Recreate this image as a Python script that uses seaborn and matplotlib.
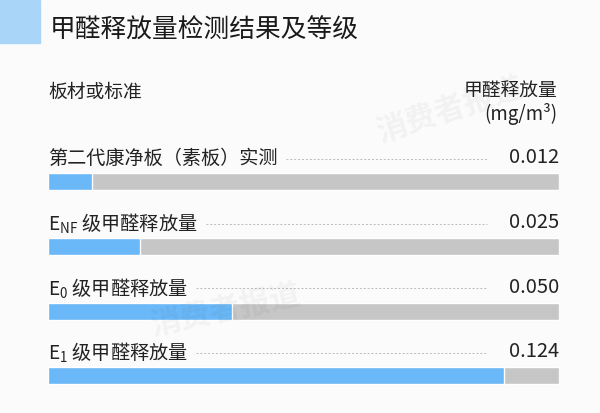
import pandas as pd
import seaborn as sns
import matplotlib.pyplot as plt
from matplotlib.patches import Rectangle

# 数据
items = ["第二代康净板（素板）实测",
         r"E$_{\mathregular{NF}}$ 级甲醛释放量",
         r"E$_{\mathregular{0}}$ 级甲醛释放量",
         r"E$_{\mathregular{1}}$ 级甲醛释放量"]
values = [0.012, 0.025, 0.050, 0.124]
value_labels = ["0.012", "0.025", "0.050", "0.124"]
scale_max = 0.139

title = "甲醛释放量检测结果及等级"
left_header = "板材或标准"
right_header = ["甲醛释放量", "(mg/m³)"]

blue = "#6ab8f7"
gray = "#c6c6c6"
bg = "#fbfbfb"

sns.set_theme(style="white")
plt.rcParams["font.family"] = ["Noto Sans CJK SC", "DejaVu Sans"]
plt.rcParams["mathtext.fontset"] = "custom"
plt.rcParams["mathtext.rm"] = "Noto Sans CJK SC"

df = pd.DataFrame({"item": [f"r{i}" for i in range(len(items))],
                   "value": values,
                   "full": [scale_max] * len(items)})

fig = plt.figure(figsize=(6, 4.13), dpi=100, facecolor=bg)
ax = fig.add_axes([48 / 600, 1 - 408.3 / 413, 511 / 600, 259.2 / 413])
ax.set_facecolor("none")

sns.barplot(data=df, x="full", y="item", orient="h", color=gray,
            saturation=1, width=0.26, ax=ax)
sns.barplot(data=df, x="value", y="item", orient="h", color=blue,
            saturation=1, width=0.26, ax=ax)

ax.set_xlim(0, scale_max)
ax.set_ylim(3.5, -0.5)
ax.set_xlabel("")
ax.set_ylabel("")
ax.set_xticks([])
ax.set_yticks([])
for s in ax.spines.values():
    s.set_visible(False)

# 行标签和数值
lab_txt, val_txt = [], []
for i, (name, v) in enumerate(zip(items, value_labels)):
    t1 = ax.text(0, i - 0.35, name, transform=ax.get_yaxis_transform(),
                 ha="left", va="center", fontsize=13.8, color="#222222")
    t2 = ax.text(1, i - 0.37, v, transform=ax.get_yaxis_transform(),
                 ha="right", va="center", fontsize=14.5, color="#222222")
    lab_txt.append(t1)
    val_txt.append(t2)

# 虚线
fig.canvas.draw()
r = fig.canvas.get_renderer()
inv = ax.transAxes.inverted()
for i, (t1, t2) in enumerate(zip(lab_txt, val_txt)):
    b1 = t1.get_window_extent(r)
    b2 = t2.get_window_extent(r)
    x0 = inv.transform((b1.x1 + 8, 0))[0]
    x1 = inv.transform((b2.x0 - 22, 0))[0]
    ax.plot([x0, x1], [i - 0.35, i - 0.35], transform=ax.get_yaxis_transform(),
            ls=(0, (2, 2)), lw=0.7, color="#bbbbbb")

# 标题和表头
fig.patches.append(Rectangle((0, 1 - 43 / 413), 40 / 600, 43 / 413,
                             transform=fig.transFigure, color="#a9d6f8", zorder=0))
fig.text(50 / 600, 1 - 31 / 413, title, fontsize=18.5, color="#1a1a1a",
         ha="left", va="center")
fig.text(48 / 600, 1 - 92 / 413, left_header, fontsize=13.5, color="#222222",
         ha="left", va="center")
fig.text(557 / 600, 1 - 91 / 413, right_header[0], fontsize=13.5, color="#222222",
         ha="right", va="center")
fig.text(557 / 600, 1 - 114 / 413, right_header[1], fontsize=13.5, color="#222222",
         ha="right", va="center")

# 水印
fig.text(450 / 600, 1 - 110 / 413, "消费者报道", fontsize=22, color="#000000",
         alpha=0.04, rotation=18, ha="center", va="center", fontweight="bold")
fig.text(225 / 600, 1 - 310 / 413, "消费者报道", fontsize=22, color="#000000",
         alpha=0.04, rotation=12, ha="center", va="center", fontweight="bold")

fig.savefig("out.png", dpi=100, facecolor=bg)
